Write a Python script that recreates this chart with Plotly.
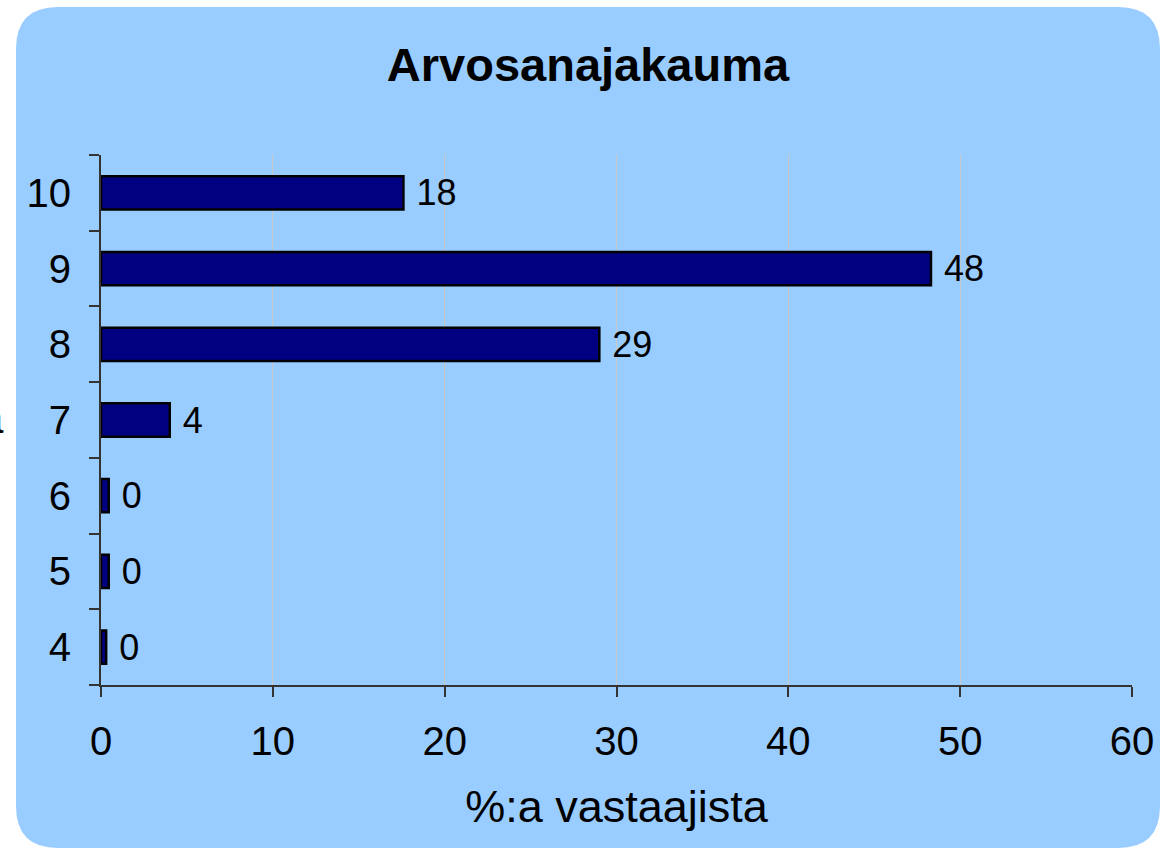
import plotly.graph_objects as go

categories = ["4", "5", "6", "7", "8", "9", "10"]
values = [0.3, 0.45, 0.45, 4.0, 29.0, 48.3, 17.6]
x_ticks = [0, 10, 20, 30, 40, 50, 60]

W, H = 1162, 850
L, R, T, B = 101, 1132, 155, 685  # plot area in px
ML, MR, MT, MB = L, W - R, T, H - B


def px2x(px):
    return (px - L) / (R - L)


def py2y(py):
    return (B - py) / (B - T)


def rounded_rect(x0, y0, x1, y1, r):
    pts = [
        ("M", px2x(x0 + r), py2y(y0)),
        ("L", px2x(x1 - r), py2y(y0)),
        ("Q", px2x(x1), py2y(y0), px2x(x1), py2y(y0 + r)),
        ("L", px2x(x1), py2y(y1 - r)),
        ("Q", px2x(x1), py2y(y1), px2x(x1 - r), py2y(y1)),
        ("L", px2x(x0 + r), py2y(y1)),
        ("Q", px2x(x0), py2y(y1), px2x(x0), py2y(y1 - r)),
        ("L", px2x(x0), py2y(y0 + r)),
        ("Q", px2x(x0), py2y(y0), px2x(x0 + r), py2y(y0)),
    ]
    s = ""
    for p in pts:
        s += p[0] + " " + " ".join(f"{v:.5f}" for v in p[1:]) + " "
    return s + "Z"


FONT = "Liberation Sans, Arial, sans-serif"

fig = go.Figure()
fig.add_trace(go.Bar(
    y=categories,
    x=values,
    orientation="h",
    width=0.44,
    marker=dict(color="#000080", line=dict(color="#000000", width=2.5)),
    texttemplate="\u00a0%{x:.0f}",
    textposition="outside",
    constraintext="none",
    cliponaxis=False,
    textfont=dict(family=FONT, size=36, color="#000000"),
    hoverinfo="x+y",
))

fig.add_shape(
    type="path",
    xref="paper", yref="paper",
    path=rounded_rect(16, 7, 1160, 848, 42),
    fillcolor="#99CCFF",
    line=dict(width=0),
    layer="below",
)

fig.add_annotation(
    text="Arvosana", xref="paper", yref="paper",
    x=px2x(6), y=py2y(418), xanchor="right", yanchor="middle",
    showarrow=False,
    font=dict(family=FONT, size=42, color="#000000"),
)

fig.update_layout(
    width=W, height=H,
    margin=dict(l=ML, r=MR, t=MT, b=MB, pad=0, autoexpand=False),
    paper_bgcolor="#FFFFFF",
    plot_bgcolor="rgba(0,0,0,0)",
    showlegend=False,
    title=dict(
        text="<b>Arvosanajakauma</b>",
        x=588 / W, xanchor="center",
        y=1 - 65 / H, yanchor="middle",
        font=dict(family=FONT, size=47, color="#000000"),
    ),
    font=dict(family=FONT, size=40, color="#000000"),
    xaxis=dict(
        range=[0, 60],
        tickvals=x_ticks,
        ticktext=[str(v) for v in x_ticks],
        ticks="outside", ticklen=10, tickwidth=2, tickcolor="#333333",
        showline=True, linecolor="#333333", linewidth=2,
        showgrid=True, gridcolor="#C8C8C8", gridwidth=1,
        zeroline=False, automargin=False,
        tickfont=dict(size=40),
        ticklabelstandoff=10,
        title=dict(text="%:a vastaajista", font=dict(size=45), standoff=28),
    ),
    yaxis=dict(
        type="category",
        categoryorder="array", categoryarray=categories,
        tickson="boundaries",
        ticks="outside", ticklen=10, tickwidth=2, tickcolor="#333333",
        showline=True, linecolor="#333333", linewidth=2,
        showgrid=False, zeroline=False, automargin=False,
        tickfont=dict(size=40),
        ticklabelstandoff=20,
    ),
)

fig.write_html(
    "out.html",
    config={"displayModeBar": False},
    post_script="document.body.style.margin='0px';document.body.style.overflow='hidden';",
)
